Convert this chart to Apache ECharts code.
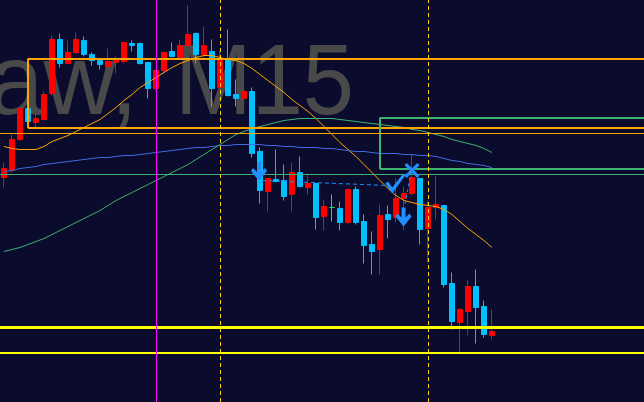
<!DOCTYPE html>
<html><head><meta charset="utf-8">
<script src="https://cdn.jsdelivr.net/npm/echarts@6/dist/echarts.min.js"></script>
<style>html,body{margin:0;padding:0;background:#0b0b2e;overflow:hidden;width:644px;height:402px}#c{width:680px;height:402px}</style>
</head><body><div id="c"></div><script>
// ---- data (price units) ----
const categories = [];
for (let i = 0; i < 85; i++) { const m = 8 * 60 + i * 15; categories.push(String(Math.floor(m / 60) % 24).padStart(2, '0') + ':' + String(m % 60).padStart(2, '0')); }
const opens  = [225,232,263,294,280,283,309,363,339,350,362,348,342,336,340,341,359,359,340,314,332,351,345,357,369,348,351,315,343,308,304,311,251,211,223,222,208,230,215,219,186,195,194,180,213,181,158,153,188,185,204,209,224,174,195,197,119,80,91,116,96,67];
const closes = [234,263,294,281,284,308,363,339,350,363,348,342,338,341,343,360,357,339,314,332,350,346,357,368,348,357,314,343,307,304,311,249,212,224,221,206,230,216,219,185,196,195,180,213,180,157,151,187,183,204,209,225,173,195,198,118,81,93,116,95,68,71];
const lows   = [215,230,262,280,275,282,307,335,338,349,346,337,333,334,329,339,351,338,304,312,329,345,345,356,339,345,296,312,306,296,297,245,199,191,221,202,191,215,208,173,172,181,172,179,178,139,128,128,164,180,172,207,158,140,183,115,73,49,67,59,65,63];
const highs  = [240,268,296,295,292,311,367,369,362,370,366,350,343,354,346,360,362,360,340,332,350,360,363,397,370,376,363,352,373,323,338,315,255,224,253,238,240,246,229,219,203,208,201,214,216,188,171,198,197,224,216,248,224,202,227,197,130,94,122,133,102,93];
const maFast = [256,254,253,253,253,256,261,264,267,271,275,279,283,289,295,302,308,315,320,325,330,335,339,342,345,347,347,345,343,342,339,334,328,322,316,310,303,297,291,284,276,268,260,253,246,238,230,222,214,207,202,200,198,197,196,193,188,181,174,168,162,155];
const maMid  = [231,232,234,235,236,238,239,240,241,242,243,244,245,245,246,247,247,248,249,250,251,252,253,254,255,255,256,257,257,258,258,258,258,257,257,256,256,255,255,255,254,254,253,252,251,251,250,249,249,249,248,248,247,247,246,244,242,241,239,238,237,235];
const maSlow = [151,153,155,158,161,164,168,172,176,180,184,188,192,197,202,206,210,214,218,222,226,230,234,238,243,248,253,258,263,268,271,274,276,278,280,282,283,284,284,284,284,284,283,282,281,280,279,278,277,276,275,273,272,270,268,266,263,261,259,257,254,250];
const orangeBox = { from: 3, top: 343, bottom: 274 };
const orangeLevel = 269;
const greenBox = { from: 47, top: 284, bottom: 233 };
const greenLevel = 228;
const yellowLevels = [75, 49];
const magentaBar = 19;
const dashedBars = [27, 53];
const sellArrows = [[31.875, 231], [49.94, 185.5]];
const closeChecks = [[48.9, 219]];
const closeCrosses = [[51, 232]];
const tradeLine1 = [[32.25, 222], [48, 217]];
const tradeLine2 = [[50.75, 225], [50.1, 197]];
const watermarkSymbol = 'EURUSDraw,';
const watermarkPeriod = 'M15';

// ---- build ----
const N = categories.length;
const candleData = opens.map((o, i) => {
  const v = [o, closes[i], lows[i], highs[i]];
  if (o === closes[i]) return { value: v, itemStyle: { color: '#22dd55', borderColor: '#22dd55', color0: '#22dd55', borderColor0: '#22dd55' } };
  return v;
});
const HALF_X = 1 / 16; // half a pixel in bar units (crisp 1px verticals)
const HALF_Y = 0.5;    // half a pixel in price units (crisp 2px horizontals)
function vline(idx) { return [[idx + HALF_X, 0.5], [idx + HALF_X, 402.5]]; }
function hline(p, off) { return [[-0.5, p + (off || 0)], [N - 0.5, p + (off || 0)]]; }
function box(b) {
  const t = b.top + HALF_Y, bt = b.bottom + HALF_Y;
  return [[b.from, bt], [b.from, t], [N - 0.5, t], [N - 0.5, bt], [b.from, bt]];
}
const chart = echarts.init(document.getElementById('c'), null, { renderer: 'canvas' });
const ORANGE = '#FFA500', GREEN = '#3CB371', BLUE = '#1E90FF';
const WM_FONT = '100px "Liberation Sans", Arial, sans-serif';
chart.setOption({
  animation: false,
  backgroundColor: '#0b0b2e',
  graphic: [
    { type: 'text', z: -10, x: 138, y: 36, style: { text: watermarkSymbol, font: WM_FONT, fill: '#494949', textAlign: 'right', textVerticalAlign: 'top' } },
    { type: 'text', z: -10, x: 175, y: 36, scaleX: 0.92, style: { text: watermarkPeriod, font: WM_FONT, fill: '#494949', textAlign: 'left', textVerticalAlign: 'top' } }
  ],
  grid: { left: 0, top: 0, right: 0, bottom: 0 },
  xAxis: [
    { type: 'category', data: categories, boundaryGap: true, show: false },
    { type: 'value', min: -0.5, max: N - 0.5, show: false }
  ],
  yAxis: { type: 'value', min: 0.5, max: 402.5, show: false, splitLine: { show: false } },
  series: [
    {
      type: 'candlestick', data: candleData, barWidth: 5, z: 2,
      itemStyle: { color: '#FF0000', color0: '#00BFFF', borderColor: '#FF0000', borderColor0: '#00BFFF', borderWidth: 1 }
    },
    { type: 'line', xAxisIndex: 1, data: box(orangeBox), symbol: 'none', lineStyle: { color: ORANGE, width: 2 }, z: 4 },
    { type: 'line', xAxisIndex: 1, data: box(greenBox), symbol: 'none', lineStyle: { color: GREEN, width: 2 }, z: 4 },
    { type: 'line', xAxisIndex: 1, data: hline(orangeLevel), symbol: 'none', lineStyle: { color: ORANGE, width: 1 }, z: 4 },
    { type: 'line', xAxisIndex: 1, data: hline(greenLevel), symbol: 'none', lineStyle: { color: GREEN, width: 1 }, z: 4 },
    { type: 'line', xAxisIndex: 1, data: hline(yellowLevels[0]), symbol: 'none', lineStyle: { color: '#FFFF00', width: 3 }, z: 4 },
    { type: 'line', xAxisIndex: 1, data: hline(yellowLevels[1], HALF_Y), symbol: 'none', lineStyle: { color: '#FFFF00', width: 2 }, z: 4 },
    { type: 'line', xAxisIndex: 1, data: vline(magentaBar), symbol: 'none', lineStyle: { color: '#FF00FF', width: 1 }, z: 4 },
    { type: 'line', xAxisIndex: 1, data: vline(dashedBars[0]), symbol: 'none', lineStyle: { color: '#FFD700', width: 1, type: [4, 3] }, z: 4 },
    { type: 'line', xAxisIndex: 1, data: vline(dashedBars[1]), symbol: 'none', lineStyle: { color: '#FFD700', width: 1, type: [4, 3] }, z: 4 },
    { type: 'line', data: maFast, showSymbol: false, symbol: 'none', lineStyle: { color: ORANGE, width: 1 }, z: 3 },
    { type: 'line', data: maMid, showSymbol: false, symbol: 'none', lineStyle: { color: '#4169E1', width: 1 }, z: 3 },
    { type: 'line', data: maSlow, showSymbol: false, symbol: 'none', lineStyle: { color: GREEN, width: 1 }, z: 3 },
    { type: 'line', xAxisIndex: 1, data: tradeLine1, symbol: 'none', lineStyle: { color: BLUE, width: 1, type: [4, 3] }, z: 4 },
    { type: 'line', xAxisIndex: 1, data: tradeLine2, symbol: 'none', lineStyle: { color: BLUE, width: 1, type: [3, 3] }, z: 4 },
    { type: 'scatter', xAxisIndex: 1, data: sellArrows, symbol: 'path://M6,0L10,0L10,10L14,6L16,9L8,19L0,9L2,6L6,10Z', symbolSize: [16, 19], itemStyle: { color: BLUE, opacity: 1 }, z: 5 },
    { type: 'scatter', xAxisIndex: 1, data: closeChecks, symbol: 'path://M0,10L3,8L7,14L18,0L20,2L7,20Z', symbolSize: [20, 20], itemStyle: { color: BLUE, opacity: 1 }, z: 5 },
    { type: 'scatter', xAxisIndex: 1, data: closeCrosses, symbol: 'path://M0,2L2,0L7,5L12,0L14,2L9,7L14,12L12,14L7,9L2,14L0,12L5,7Z', symbolSize: [15, 15], itemStyle: { color: BLUE, opacity: 1 }, z: 5 }
  ]
});
</script></body></html>
